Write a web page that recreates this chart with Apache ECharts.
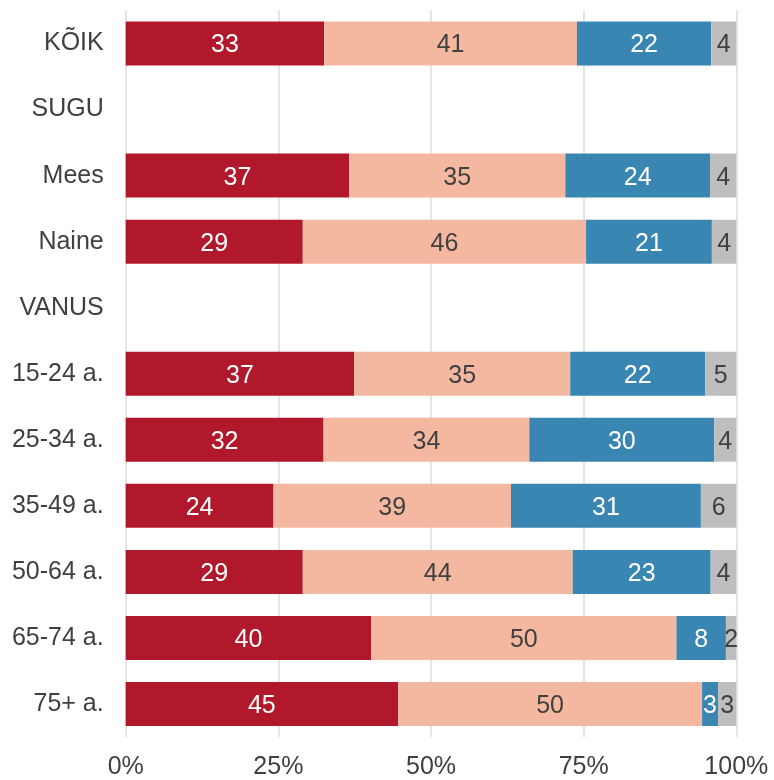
<!DOCTYPE html>
<html><head><meta charset="utf-8">
<script src="https://cdn.jsdelivr.net/npm/echarts@6/dist/echarts.min.js"></script>
<style>html,body{margin:0;padding:0;background:#fff}#c{width:774px;height:780px}</style>
</head><body><div id="c"></div>
<script>
var categories = ['KÕIK','SUGU','Mees','Naine','VANUS','15-24 a.','25-34 a.','35-49 a.','50-64 a.','65-74 a.','75+ a.'];
var s1 = [32.5, null, 36.6, 29.0, null, 37.4, 32.4, 24.2, 29.0, 40.2, 44.6];
var s2 = [41.4, null, 35.4, 46.4, null, 35.4, 33.7, 38.9, 44.2, 50.0, 49.8];
var s3 = [22.0, null, 23.7, 20.6, null, 22.1, 30.3, 31.1, 22.6, 8.1, 2.6];
var s4 = [4.1, null, 4.3, 4.0, null, 5.1, 3.6, 5.8, 4.2, 1.7, 3.0];
var xTicks = [0, 25, 50, 75, 100];

var font = 'Liberation Sans, Arial, sans-serif';
function mk(name, data, color, labelColor) {
  return {
    name: name, type: 'bar', stack: 'a', data: data, barWidth: 44,
    itemStyle: { color: color },
    label: { show: true, position: 'inside', offset: [0, 2], color: labelColor, fontSize: 25, fontFamily: font,
      formatter: function(p){ return p.value == null ? '' : Math.round(p.value); } },
    emphasis: { disabled: true }
  };
}
var chart = echarts.init(document.getElementById('c'));
chart.setOption({
  animation: false,
  grid: { left: 125.7, right: 37.7, top: 10.5, bottom: 38.5, containLabel: false },
  xAxis: {
    type: 'value', min: 0, max: 100, interval: 25,
    axisLine: { show: false }, axisTick: { show: false },
    splitLine: { show: true, lineStyle: { color: '#dcdcdc', width: 1.5 } },
    axisLabel: { color: '#404040', fontSize: 25, fontFamily: font, margin: 18,
      formatter: function(v){ return xTicks.indexOf(v) >= 0 ? v + '%' : ''; } }
  },
  yAxis: {
    type: 'category', data: categories, inverse: true,
    axisLine: { show: false }, axisTick: { show: false },
    axisLabel: { color: '#404040', fontSize: 25, fontFamily: font, margin: 22, padding: [3, 0, 0, 0] }
  },
  series: [
    mk('a', s1, '#B2182B', '#ffffff'),
    mk('b', s2, '#F4B8A0', '#404040'),
    mk('c', s3, '#3A86B2', '#ffffff'),
    mk('d', s4, '#BEBEBE', '#404040')
  ]
});
</script></body></html>
